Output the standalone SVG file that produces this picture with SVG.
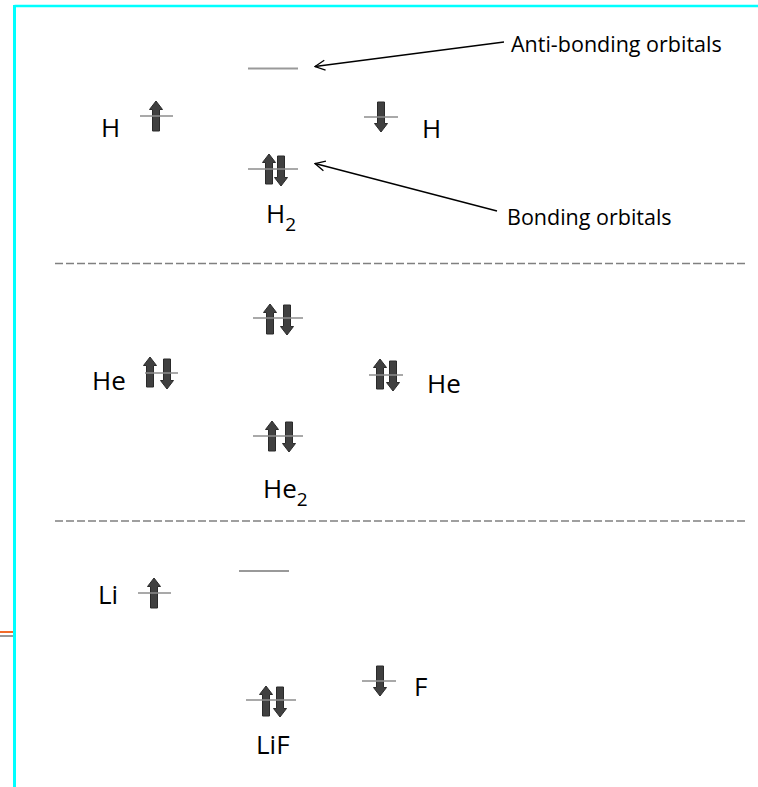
<svg xmlns="http://www.w3.org/2000/svg" width="758" height="787" viewBox="0 0 758 787">
<style>
.lbl{font-family:"Open Sans","Liberation Sans",sans-serif;font-size:26px;fill:#000}
.sub{font-size:19px}
.ann{font-family:"Open Sans","Liberation Sans",sans-serif;font-size:21.5px;fill:#000}
.orb{stroke:#8c8c8c;stroke-width:1.6;fill:none}
.mo{stroke:#999;stroke-width:2;fill:none}
.dash{stroke:#808080;stroke-width:1.5;stroke-dasharray:8 3;fill:none}
.ptr{stroke:#000;stroke-width:1.3;fill:none}
</style>
<defs>
<path id="up" d="M0,0 L6.5,8.5 L3.5,8.5 L3.5,30 L-3.5,30 L-3.5,8.5 L-6.5,8.5 Z" fill="#404040" stroke="#2a2a2a" stroke-width="1" stroke-linejoin="miter"/>
<path id="dn" d="M0,30 L6.5,21.5 L3.5,21.5 L3.5,0 L-3.5,0 L-3.5,21.5 L-6.5,21.5 Z" fill="#404040" stroke="#2a2a2a" stroke-width="1" stroke-linejoin="miter"/>
<marker id="chev" viewBox="0 0 12 12" refX="11" refY="6" markerWidth="12" markerHeight="12" markerUnits="userSpaceOnUse" orient="auto">
<path d="M1,1 L11,6 L1,11" fill="none" stroke="#000" stroke-width="1.3"/>
</marker>
</defs>
<!-- frame -->
<line x1="14.5" y1="6" x2="758" y2="6" stroke="#00ffff" stroke-width="2.5"/>
<line x1="14.5" y1="5" x2="14.5" y2="787" stroke="#00ffff" stroke-width="3"/>
<line x1="0" y1="632" x2="13" y2="632" stroke="#f26b2a" stroke-width="2"/>
<line x1="0" y1="636" x2="13" y2="636" stroke="#999" stroke-width="2"/>

<g id="connectors">
<line class="dash" x1="55" y1="263.5" x2="747" y2="263.5"/>
<line class="dash" x1="55" y1="521" x2="747" y2="521"/>
<line class="ptr" x1="504" y1="42" x2="315" y2="66.5" marker-end="url(#chev)"/>
<line class="ptr" x1="497" y1="211" x2="315" y2="163.5" marker-end="url(#chev)"/>
</g>

<!-- H2 section -->
<g id="H-left">
<text class="lbl" x="101" y="137">H</text>
<use href="#up" x="156" y="101"/>
<line class="orb" x1="140" y1="116" x2="173" y2="116"/>
</g>
<g id="H-right">
<use href="#dn" x="381" y="102"/>
<line class="orb" x1="364" y1="117" x2="398" y2="117"/>
<text class="lbl" x="422" y="138">H</text>
</g>
<g id="H2-antibonding">
<line class="mo" x1="248" y1="68.5" x2="298" y2="68.5"/>
</g>
<g id="H2-bonding">
<use href="#up" x="269" y="154"/>
<use href="#dn" x="281" y="156"/>
<line class="orb" x1="248" y1="169" x2="298" y2="169"/>
<text class="lbl" x="266" y="223">H<tspan class="sub" dy="8">2</tspan></text>
</g>
<g id="label-antibonding">
<text class="ann" x="511" y="52">Anti-bonding orbitals</text>
</g>
<g id="label-bonding">
<text class="ann" x="507" y="225">Bonding orbitals</text>
</g>

<!-- He2 section -->
<g id="He2-antibonding">
<use href="#up" x="270" y="304"/>
<use href="#dn" x="287" y="305"/>
<line class="orb" x1="253" y1="318" x2="303" y2="318"/>
</g>
<g id="He-left">
<text class="lbl" x="92" y="390">He</text>
<use href="#up" x="150" y="357"/>
<use href="#dn" x="167" y="359"/>
<line class="orb" x1="145" y1="373" x2="178" y2="373"/>
</g>
<g id="He-right">
<use href="#up" x="380" y="359"/>
<use href="#dn" x="393" y="361"/>
<line class="orb" x1="369" y1="375" x2="403" y2="375"/>
<text class="lbl" x="427" y="393">He</text>
</g>
<g id="He2-bonding">
<use href="#up" x="272" y="421"/>
<use href="#dn" x="289" y="422"/>
<line class="orb" x1="253" y1="436" x2="303" y2="436"/>
<text class="lbl" x="263" y="498">He<tspan class="sub" dy="8">2</tspan></text>
</g>

<!-- LiF section -->
<g id="LiF-antibonding">
<line class="mo" x1="239" y1="571" x2="289" y2="571"/>
</g>
<g id="Li">
<text class="lbl" x="98" y="604">Li</text>
<use href="#up" x="154" y="578"/>
<line class="orb" x1="138" y1="593" x2="171" y2="593"/>
</g>
<g id="F">
<use href="#dn" x="380" y="666"/>
<line class="orb" x1="362" y1="681" x2="396" y2="681"/>
<text class="lbl" x="414" y="696">F</text>
</g>
<g id="LiF-bonding">
<use href="#up" x="266" y="686"/>
<use href="#dn" x="280" y="687"/>
<line class="orb" x1="246" y1="700" x2="296" y2="700"/>
<text class="lbl" x="256" y="754">LiF</text>
</g>
</svg>
